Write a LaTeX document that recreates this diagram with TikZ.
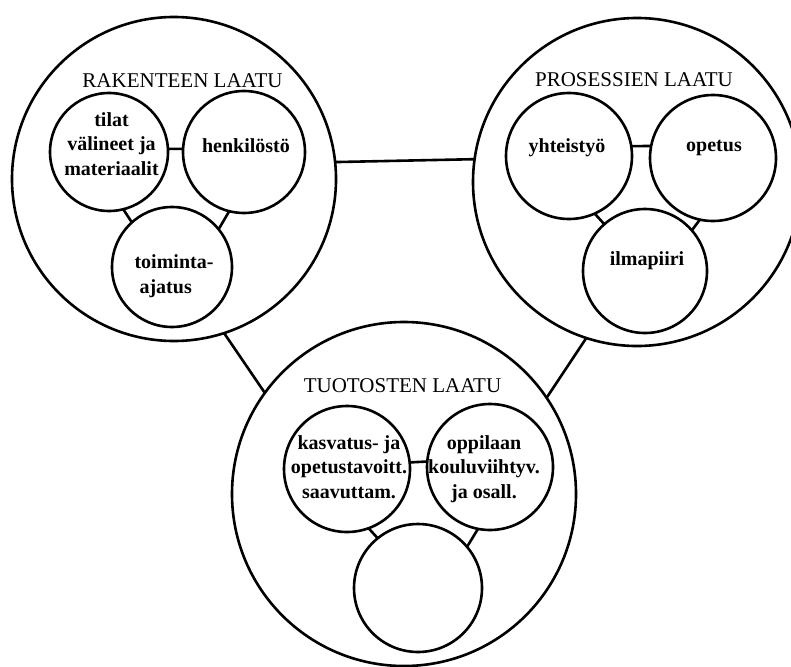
\documentclass[tikz,border=0pt]{standalone}
\usepackage{fontspec}
\setmainfont{Liberation Serif}
\begin{document}
\begin{tikzpicture}[x=1pt,y=-1pt,
  big/.style={circle,draw,line width=2.6pt,inner sep=0pt,outer sep=0pt},
  small/.style={circle,draw,line width=2.6pt,inner sep=0pt,outer sep=0pt},
  link/.style={line width=2.6pt},
  title/.style={font=\fontsize{21}{25}\selectfont,inner sep=0pt,anchor=base},
  lbl/.style={font=\bfseries\fontsize{20}{24.5}\selectfont,inner sep=0pt,anchor=base,align=center}]
\useasboundingbox (0,0) rectangle (791,666);
% outer circles
\node[big,minimum size=324pt] (c1) at (174,179) {};
\node[big,minimum size=328pt] (c2) at (637,182) {};
\node[big,minimum size=344pt] (c3) at (404,494) {};
% inner circles
\node[small,minimum size=118pt] (tilat) at (109,152) {};
\node[small,minimum size=122pt] (henk) at (244,152) {};
\node[small,minimum size=120pt] (toim) at (172,267) {};
\node[small,minimum size=126pt] (yht) at (569,156) {};
\node[small,minimum size=126pt] (opet) at (713,158) {};
\node[small,minimum size=124pt] (ilma) at (645,271) {};
\node[small,minimum size=126pt] (kasv) at (347,469) {};
\node[small,minimum size=126pt] (opp) at (490,467) {};
\node[small,minimum size=128pt] (tom) at (418,588) {};
% connectors
\draw[link] (c1.6.7) -- (c2.172.4);
\draw[link] (c1.-72.4) -- (c3.144);
\draw[link] (c2.252.6) -- (c3.34.7);
\draw[link] (tilat.3) -- (henk.177);
\draw[link] (tilat.-76) -- (toim.132);
\draw[link] (henk.256) -- (toim.39);
\draw[link] (yht.9) -- (opet.169);
\draw[link] (yht.-66) -- (ilma.131);
\draw[link] (opet.258) -- (ilma.41);
\draw[link] (kasv.6) -- (opp.175);
\draw[link] (kasv.-70) -- (tom.129);
\draw[link] (opp.259) -- (tom.40);
% texts
\node[title] (t1) at (182.5,88) {RAKENTEEN LAATU};
\node[title] (t2) at (634,87) {PROSESSIEN LAATU};
\node[title] (t3) at (402.5,392) {TUOTOSTEN LAATU};
\node[lbl] (l1) at (111.5,175) {tilat\\välineet ja\\materiaalit};
\node[lbl] (l2) at (246,152) {henkilöstö};
\node[lbl,align=left] (l3) at (174,293) {toiminta-\\\hspace*{5pt}ajatus};
\node[lbl] (l4) at (567,152) {yhteistyö};
\node[lbl] (l5) at (714,151) {opetus};
\node[lbl] (l6) at (647,265) {ilmapiiri};
\node[lbl] (l7) at (349,498) {kasvatus- ja\\opetustavoitt.\\saavuttam.};
\node[lbl] (l8) at (484,498) {oppilaan\\kouluviihtyv.\\ja osall.};
\end{tikzpicture}
\end{document}
